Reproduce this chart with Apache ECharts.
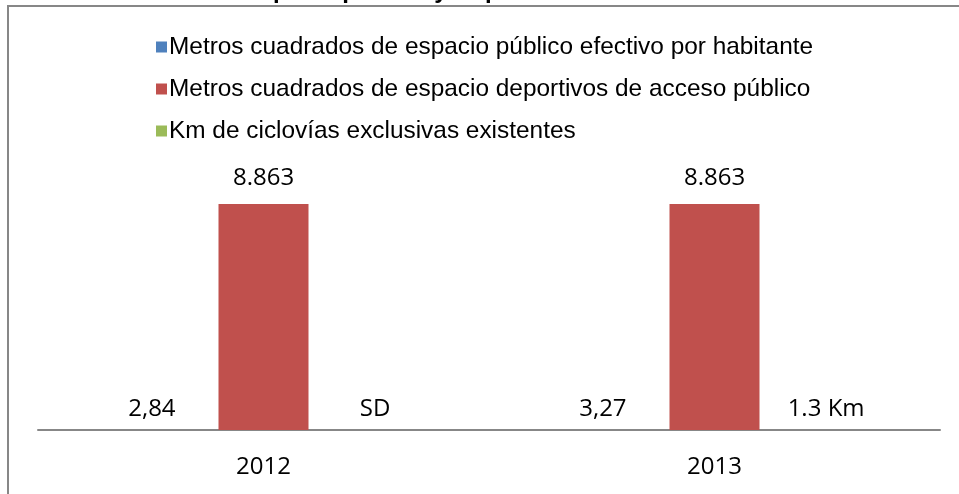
<!DOCTYPE html>
<html>
<head>
<meta charset="utf-8">
<script src="https://cdn.jsdelivr.net/npm/echarts@6/dist/echarts.min.js"></script>
<style>
  html, body { margin: 0; padding: 0; background: #ffffff; }
  #chart { width: 959px; height: 494px; }
</style>
</head>
<body>
<div id="chart"></div>
<script>
// Years on the category axis
const years = ['2012', '2013'];

// Series names (legend entries)
const seriesNames = [
  'Metros cuadrados de espacio público efectivo por habitante',
  'Metros cuadrados de espacio deportivos de acceso público',
  'Km de ciclovías exclusivas existentes'
];

// Values per series, one per year (SD = sin dato, drawn as 0)
const espacioPublico = [2.84, 3.27];
const espacioDeportivo = [8863, 8863];
const ciclovias = [0, 1.3];

// Label text shown above each bar
const espacioPublicoLabels = ['2,84', '3,27'];
const espacioDeportivoLabels = ['8.863', '8.863'];
const cicloviasLabels = ['SD', '1.3 Km'];

const colors = ['#4F81BD', '#C0504D', '#9BBB59'];
const labelFont = '"Open Sans", "Noto Sans", sans-serif';

function makeSeries(name, values, labels, color, distance) {
  return {
    name: name,
    type: 'bar',
    data: values,
    barWidth: 90,
    barGap: '24%',
    itemStyle: { color: color },
    label: {
      show: true,
      position: 'top',
      distance: distance,
      color: '#000000',
      fontFamily: labelFont,
      fontSize: 24,
      formatter: function (p) { return labels[p.dataIndex]; }
    },
    emphasis: { disabled: true }
  };
}

const chart = echarts.init(document.getElementById('chart'), null, { renderer: 'canvas' });

chart.setOption({
  animation: false,
  backgroundColor: '#ffffff',
  color: colors,
  graphic: [
    {
      type: 'rect',
      shape: { x: 8, y: 6, width: 960, height: 500 },
      style: { fill: 'none', stroke: '#878787', lineWidth: 2 },
      silent: true,
      z: 0
    },
    {
      // heading sits above the frame, mostly outside the canvas
      type: 'text',
      x: 545,
      y: 3,
      style: {
        text: 'Barrancos: Catanata - Espacio público y Deporte',
        font: 'bold 24px "Liberation Sans", Arial, sans-serif',
        fill: '#000000',
        align: 'right',
        verticalAlign: 'bottom'
      },
      silent: true
    }
  ],
  legend: {
    orient: 'vertical',
    left: 151,
    top: 30,
    itemWidth: 11,
    itemHeight: 11,
    itemGap: 18,
    icon: 'rect',
    selectedMode: false,
    textStyle: {
      fontFamily: '"Liberation Sans", Arial, sans-serif',
      fontSize: 24.4,
      color: '#000000',
      padding: [0, 0, 0, -3]
    },
    data: seriesNames
  },
  grid: {
    left: 38,
    right: 19,
    top: 175,
    bottom: 64,
    containLabel: false
  },
  xAxis: {
    type: 'category',
    data: years,
    axisLine: { show: true, lineStyle: { color: '#878787', width: 2 } },
    axisTick: { show: false },
    axisLabel: {
      margin: 25,
      color: '#000000',
      fontFamily: labelFont,
      fontSize: 24
    }
  },
  yAxis: {
    type: 'value',
    min: 0,
    max: 10000,
    show: false,
    splitLine: { show: false }
  },
  series: [
    makeSeries(seriesNames[0], espacioPublico, espacioPublicoLabels, colors[0], 9),
    makeSeries(seriesNames[1], espacioDeportivo, espacioDeportivoLabels, colors[1], 14),
    makeSeries(seriesNames[2], ciclovias, cicloviasLabels, colors[2], 9)
  ]
});
</script>
</body>
</html>
